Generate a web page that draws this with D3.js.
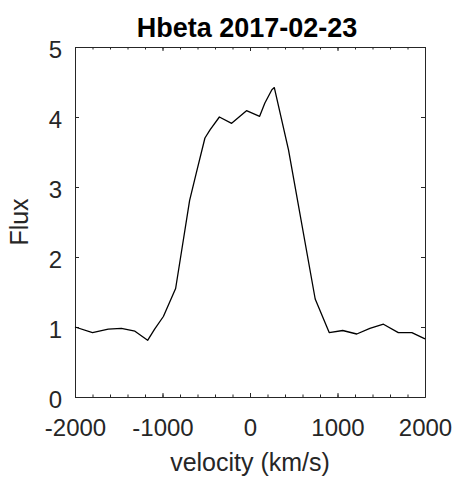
<!DOCTYPE html>
<html>
<head>
<meta charset="utf-8">
<script src="https://cdn.jsdelivr.net/npm/d3@7"></script>
<style>
  html, body { margin: 0; padding: 0; background: #fff; }
  svg { display: block; font-family: "Liberation Sans", Arial, Helvetica, sans-serif; }
</style>
</head>
<body>
<svg id="chart" width="457" height="481"></svg>
<script>
// Hbeta line profile, 2017-02-23
const velocity = [-2000, -1800, -1620, -1470, -1315, -1170, -1090, -990, -850, -780, -690, -610, -515, -455, -350, -210, -40, 110, 170, 250, 278, 440, 745, 905, 1060, 1220, 1370, 1525, 1695, 1850, 2000];
const flux     = [1.00, 0.92, 0.97, 0.98, 0.94, 0.81, 0.97, 1.15, 1.55, 2.10, 2.81, 3.22, 3.70, 3.82, 4.00, 3.91, 4.09, 4.01, 4.20, 4.39, 4.42, 3.53, 1.40, 0.92, 0.95, 0.90, 0.98, 1.04, 0.92, 0.92, 0.83];

const xTicks = [-2000, -1000, 0, 1000, 2000];
const xMinorTicks = d3.range(-2000, 2001, 200);
const yTicks = [0, 1, 2, 3, 4, 5];

const titleText = "Hbeta 2017-02-23";
const xLabel = "velocity (km/s)";
const yLabel = "Flux";

const margin = { left: 75, top: 47, right: 32, bottom: 84 };
const W = 457, H = 481;
const pw = W - margin.left - margin.right;
const ph = H - margin.top - margin.bottom;

const svg = d3.select("#chart");
const g = svg.append("g").attr("transform", `translate(${margin.left},${margin.top})`);

const x = d3.scaleLinear().domain([-2000, 2000]).range([0, pw]);
const y = d3.scaleLinear().domain([0, 5]).range([ph, 0]);

const axisColor = "#262626";
const major = 4, minor = 2.5;
const plain = d => String(d);

// box axes with inward ticks
function styleAxis(sel) {
  sel.select(".domain").attr("stroke", axisColor).attr("stroke-width", 1);
  sel.selectAll(".tick line").attr("stroke", axisColor).attr("stroke-width", 1);
  sel.selectAll(".tick text").attr("fill", axisColor).style("font-size", "24px");
}

// minor x ticks (bottom & top)
g.append("g").attr("transform", `translate(0,${ph})`)
  .call(d3.axisBottom(x).tickValues(xMinorTicks).tickSize(-minor).tickSizeOuter(0).tickFormat(""))
  .call(styleAxis);
g.append("g")
  .call(d3.axisTop(x).tickValues(xMinorTicks).tickSize(-minor).tickSizeOuter(0).tickFormat(""))
  .call(styleAxis);

// major x ticks with labels
const xAxis = g.append("g").attr("transform", `translate(0,${ph})`)
  .call(d3.axisBottom(x).tickValues(xTicks).tickSize(-major).tickSizeOuter(0).tickPadding(16).tickFormat(plain))
  .call(styleAxis);
xAxis.selectAll(".tick text").attr("dy", "0.95em");
g.append("g")
  .call(d3.axisTop(x).tickValues(xTicks).tickSize(-major).tickSizeOuter(0).tickFormat(""))
  .call(styleAxis);

// y axes
const yAxis = g.append("g")
  .call(d3.axisLeft(y).tickValues(yTicks).tickSize(-major).tickSizeOuter(0).tickPadding(13).tickFormat(plain))
  .call(styleAxis);
yAxis.selectAll(".tick text").attr("dy", "0.42em");
g.append("g").attr("transform", `translate(${pw},0)`)
  .call(d3.axisRight(y).tickValues(yTicks).tickSize(-major).tickSizeOuter(0).tickFormat(""))
  .call(styleAxis);

// profile line
const line = d3.line().x((d, i) => x(velocity[i])).y((d, i) => y(flux[i]));
g.append("path")
  .datum(flux)
  .attr("fill", "none")
  .attr("stroke", "#000")
  .attr("stroke-width", 1.3)
  .attr("stroke-linejoin", "round")
  .attr("d", line);

// title
svg.append("text")
  .attr("x", margin.left + pw / 2 - 3)
  .attr("y", 37)
  .attr("text-anchor", "middle")
  .attr("font-weight", "bold")
  .style("font-size", "27px")
  .attr("fill", "#000")
  .text(titleText);

// axis labels
svg.append("text")
  .attr("x", margin.left + pw / 2)
  .attr("y", 471)
  .attr("text-anchor", "middle")
  .style("font-size", "25px")
  .attr("fill", axisColor)
  .text(xLabel);

svg.append("text")
  .attr("transform", `translate(28,${margin.top + ph / 2}) rotate(-90)`)
  .attr("text-anchor", "middle")
  .style("font-size", "25px")
  .attr("fill", axisColor)
  .text(yLabel);
</script>
</body>
</html>
